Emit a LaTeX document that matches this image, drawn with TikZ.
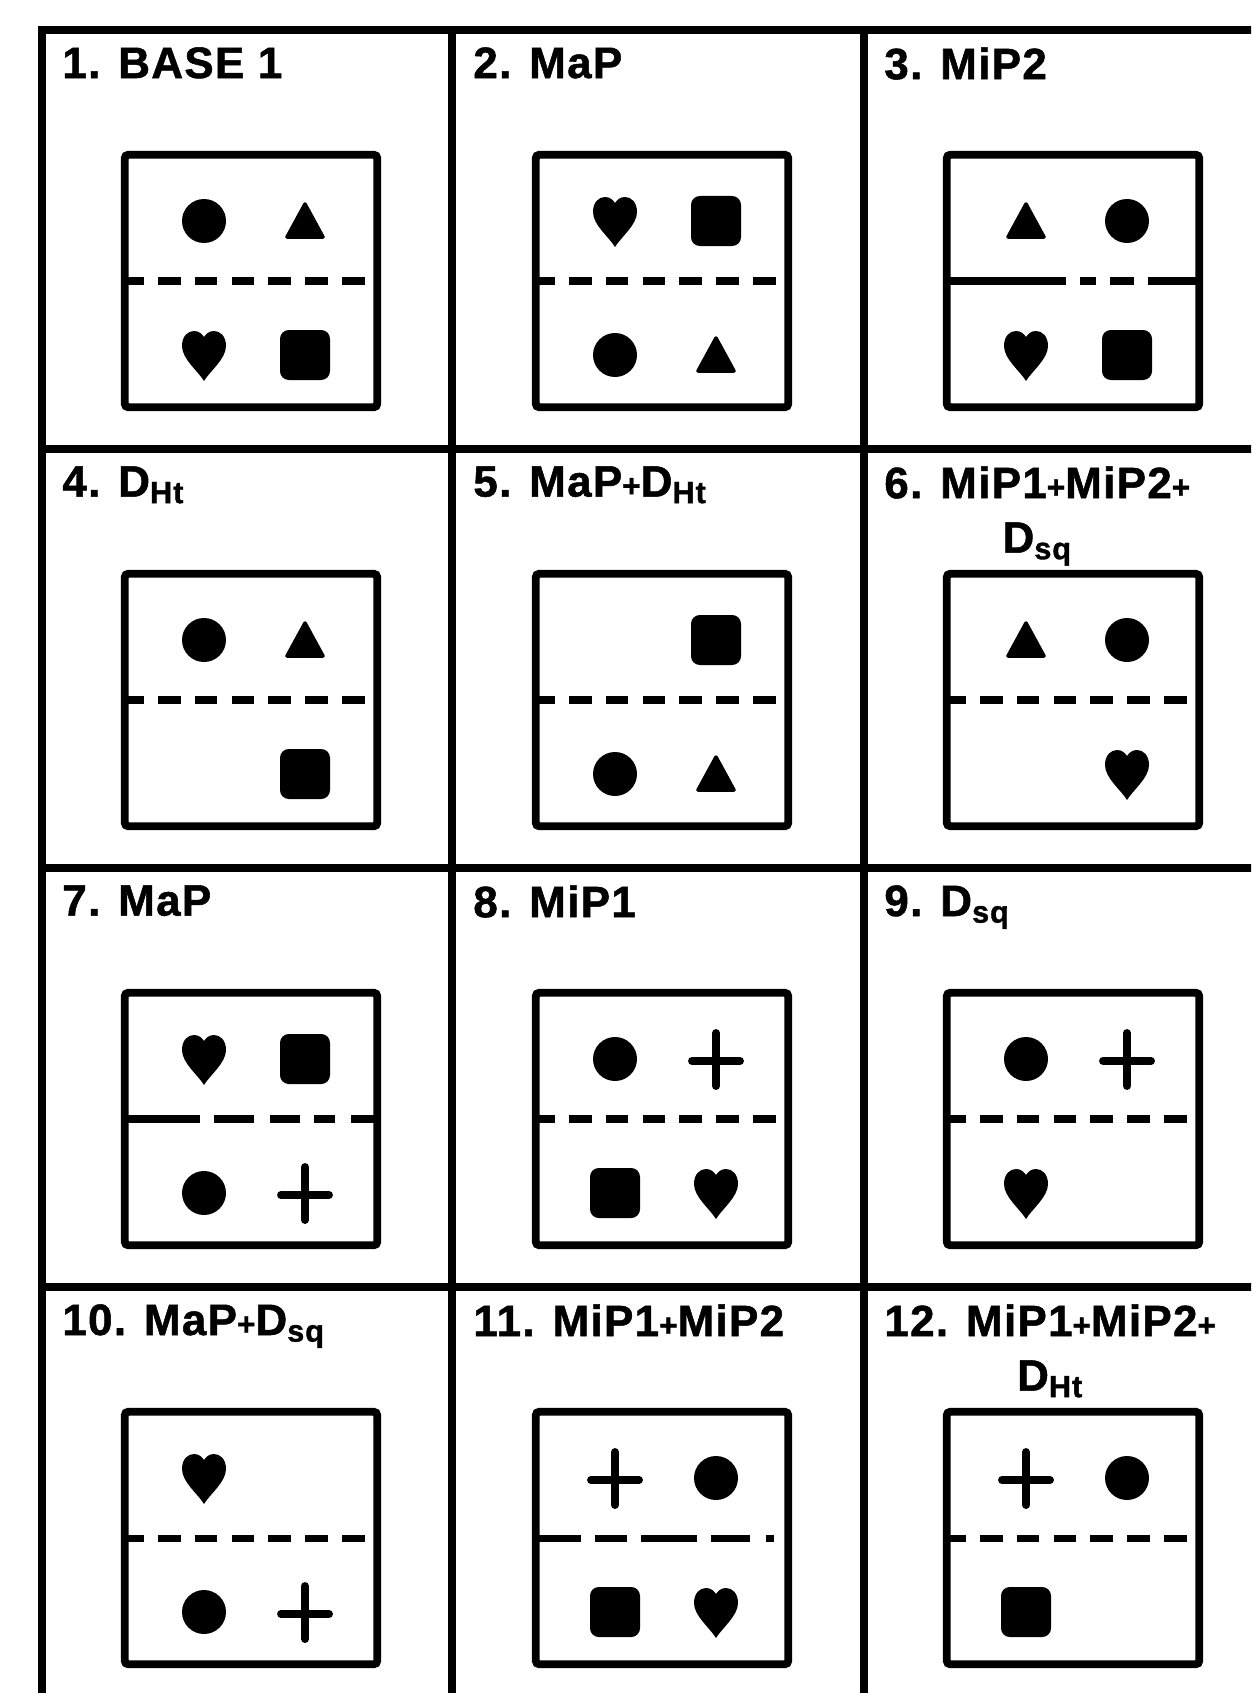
\documentclass[tikz,border=0pt]{standalone}
\usepackage{fontspec}
\setmainfont{Liberation Sans}[LetterSpace=3, BoldFeatures={FakeBold=1.2}]
\newcommand{\pl}{{\fontsize{18}{18}\selectfont+}}

\begin{document}
\begin{tikzpicture}[
    x=0.02cm, y=-0.02cm,
    gridline/.style={line width=4.5pt, line cap=rect},
    panel/.style={draw, line width=4.5pt, rounded corners=2pt, minimum width=5.05cm, minimum height=5.05cm, inner sep=0pt},
    divider/.style={line width=4pt},
    divdash/.style={dash pattern=on 13pt off 8pt},
    divmid/.style={dash pattern=on 70pt off 8pt on 9pt off 8pt on 14pt off 8pt on 60pt off 8pt},
    divleft/.style={dash pattern=on 45pt off 8pt on 23pt off 9pt on 17pt off 8pt on 12pt off 9pt on 40pt off 8pt},
    divshort/.style={dash pattern=on 28pt off 8pt on 18pt off 8pt on 32pt off 8pt on 22pt off 9pt on 5pt off 30pt},
    title/.style={anchor=north west, inner sep=0pt, align=center, font=\fontsize{25}{31}\selectfont\bfseries},
    circ/.pic={\fill (0,0) circle (22);},
    tri/.pic={\filldraw[line width=2pt, line join=round] (0,-17) -- (18,16) -- (-18,16) -- cycle;},
    heart/.pic={\fill (0,26) .. controls (-6,16) and (-22,4) .. (-22,-9)
        .. controls (-22,-19) and (-16,-24) .. (-10,-24)
        .. controls (-5,-24) and (-2,-21) .. (0,-18)
        .. controls (2,-21) and (5,-24) .. (10,-24)
        .. controls (16,-24) and (22,-19) .. (22,-9)
        .. controls (22,4) and (6,16) .. (0,26) -- cycle;},
    sq/.pic={\fill[rounded corners=5pt] (-25,-25) rectangle (25,25);},
    cross/.pic={\draw[line width=4.5pt, line cap=round] (-24,2) -- (24,2) (0,-26) -- (0,27);},
    none/.pic={}
]
    \useasboundingbox (0,0) rectangle (1251,1693);
    \clip (0,0) rectangle (1251,1693);

    \foreach \gx in {42,452,864} {
        \draw[gridline] (\gx,30) -- (\gx,1720);
    }
    \foreach \gy in {30,449,868,1287} {
        \draw[gridline] (42,\gy) -- (1280,\gy);
    }

    \foreach \n/\col/\row/\lab/\tl/\tr/\bl/\br/\dv in {
        1/0/0/{1. BASE 1}/circ/tri/heart/sq/divdash,
        2/1/0/{2. MaP}/heart/sq/circ/tri/divdash,
        3/2/0/{3. MiP2}/tri/circ/heart/sq/divmid,
        4/0/1/{4. D\textsubscript{Ht}}/circ/tri/none/sq/divdash,
        5/1/1/{5. MaP\pl D\textsubscript{Ht}}/none/sq/circ/tri/divdash,
        6/2/1/{6. MiP1\pl MiP2\pl\\D\textsubscript{sq}}/tri/circ/none/heart/divdash,
        7/0/2/{7. MaP}/heart/sq/circ/cross/divleft,
        8/1/2/{8. MiP1}/circ/cross/sq/heart/divdash,
        9/2/2/{9. D\textsubscript{sq}}/circ/cross/heart/none/divdash,
        10/0/3/{10. MaP\pl D\textsubscript{sq}}/heart/none/circ/cross/divdash,
        11/1/3/{11. MiP1\pl MiP2}/cross/circ/sq/heart/divshort,
        12/2/3/{12. MiP1\pl MiP2\pl\\D\textsubscript{Ht}}/cross/circ/sq/none/divdash%
    } {
        \node[panel] (box\n) at (251+411*\col,281+419*\row) {};
        \node[title] (lab\n) at (62+411*\col,47+419*\row) {\lab};
        \draw[divider, \dv] (box\n.west) -- (box\n.east);
        \pic at ([shift={(-47,-60)}]box\n.center) {\tl};
        \pic at ([shift={(54,-60)}]box\n.center) {\tr};
        \pic at ([shift={(-47,74)}]box\n.center) {\bl};
        \pic at ([shift={(54,74)}]box\n.center) {\br};
    }
\end{tikzpicture}
\end{document}
